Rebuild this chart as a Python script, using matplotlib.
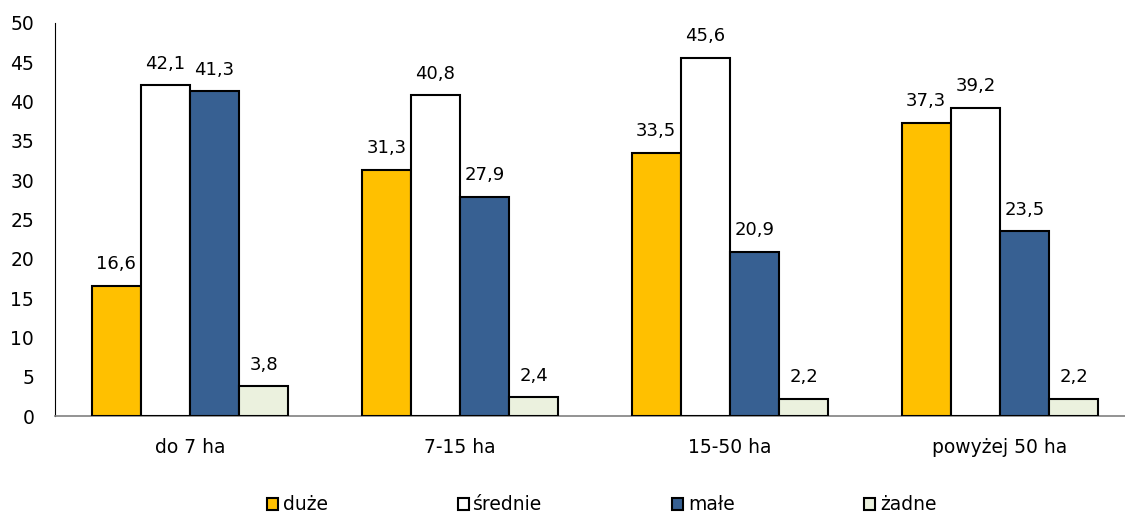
import matplotlib.pyplot as plt
import numpy as np
from matplotlib.patches import Patch

categories = ['do 7 ha', '7-15 ha', '15-50 ha', 'powyżej 50 ha']
series_names = ['duże', 'średnie', 'małe', 'żadne']
duze = [16.6, 31.3, 33.5, 37.3]
srednie = [42.1, 40.8, 45.6, 39.2]
male = [41.3, 27.9, 20.9, 23.5]
zadne = [3.8, 2.4, 2.2, 2.2]
colors = ['#FFC000', '#FFFFFF', '#376092', '#EBF1DE']

plt.rcParams['font.family'] = 'DejaVu Sans'
plt.rcParams['font.size'] = 13.5

fig = plt.figure(figsize=(11.25, 5.15), dpi=100)
ax = fig.add_axes([55 / 1125, 99 / 515, 1080 / 1125, 393 / 515])

x = np.arange(len(categories))
width = 0.182
all_series = [duze, srednie, male, zadne]
for i, vals in enumerate(all_series):
    pos = x + (i - 1.5) * width
    bars = ax.bar(pos, vals, width, color=colors[i], edgecolor='black',
                  linewidth=1.5, label=series_names[i], zorder=3)
    for b, v in zip(bars, vals):
        ax.annotate(f'{v:.1f}'.replace('.', ','),
                    (b.get_x() + b.get_width() / 2, v),
                    xytext=(0, 9), textcoords='offset points',
                    ha='center', va='bottom', fontsize=13)

ax.set_xlim(-0.5, 3.5)
ax.set_ylim(0, 50)
ax.set_yticks(range(0, 51, 5))
ax.set_xticks(x)
ax.set_xticklabels(categories)
ax.tick_params(axis='both', length=0, labelsize=13.5)
ax.tick_params(axis='y', pad=15)
ax.tick_params(axis='x', pad=16)
for s in ['top', 'right']:
    ax.spines[s].set_visible(False)
ax.spines['left'].set_color('black')
ax.spines['bottom'].set_color('#808080')
ax.spines['bottom'].set_linewidth(1.2)

handles = [Patch(facecolor=c, edgecolor='black', linewidth=1.5) for c in colors]
fig.legend(handles, series_names, loc='center', bbox_to_anchor=(0.535, 0.02),
           ncol=4, frameon=False, handlelength=0.6, handleheight=0.6,
           handletextpad=0.25, columnspacing=6.9, fontsize=13.5)

fig.savefig('out.png', dpi=100)
